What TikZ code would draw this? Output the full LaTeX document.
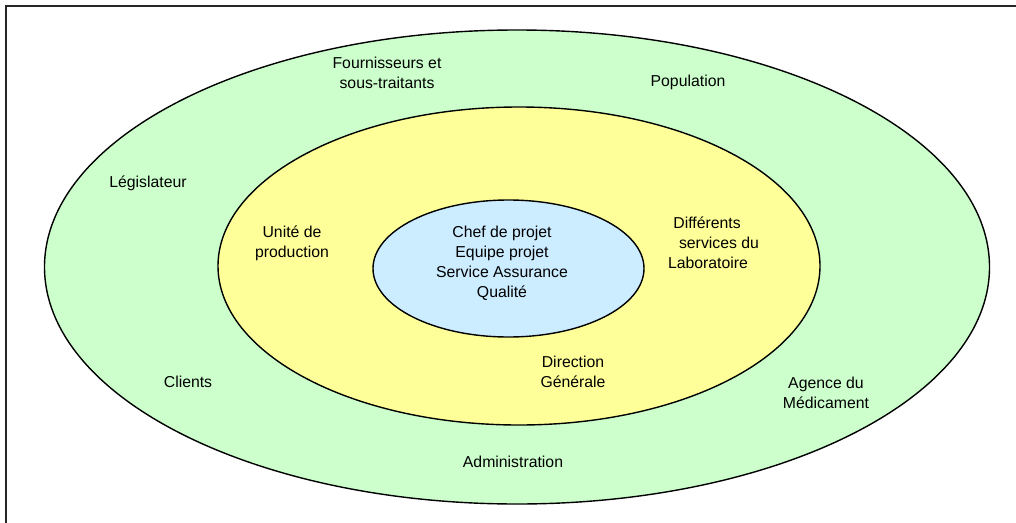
\documentclass[tikz,border=0pt]{standalone}
\usepackage{fontspec}
\setmainfont{Liberation Sans}
\usetikzlibrary{shapes.geometric}
\definecolor{outerfill}{HTML}{CCFFCC}
\definecolor{midfill}{HTML}{FFFF99}
\definecolor{innerfill}{HTML}{CCECFF}
\begin{document}
\begin{tikzpicture}[x=1pt,y=-1pt,
  ring/.style={draw=black, line width=1.4pt, ellipse, inner sep=0pt},
  lbl/.style={align=center, font=\fontsize{15.8}{20}\selectfont, inner sep=0pt}]
\useasboundingbox (0,0) rectangle (1016,522);
\draw[line width=2pt, draw=black!85] (6,6) rectangle (1030,540);
\node[ring, fill=outerfill, minimum width=945pt, minimum height=474pt] (outer) at (517,267) {};
\node[ring, fill=midfill, minimum width=602pt, minimum height=318pt] (mid) at (519,266) {};
\node[ring, fill=innerfill, minimum width=271pt, minimum height=137pt] (inner) at (508.5,268.5) {};
\node[lbl] (core) at (502,263) {Chef de projet\\Equipe projet\\Service Assurance\\Qualité};
\node[lbl] (fourn) at (387,73) {Fournisseurs et\\sous-traitants};
\node[lbl] (pop) at (688,82) {Population};
\node[lbl] (legis) at (148,183) {Législateur};
\node[lbl] (unite) at (292,243) {Unité de\\production};
\node[lbl] (diff1) at (707,223) {Différents};
\node[lbl] (diff2) at (719,243) {services du};
\node[lbl] (diff3) at (708,263) {Laboratoire};
\node[lbl] (dir) at (573,372) {Direction\\Générale};
\node[lbl] (clients) at (188,382) {Clients};
\node[lbl] (agence) at (826,393) {Agence du\\Médicament};
\node[lbl] (admin) at (513,462) {Administration};
\end{tikzpicture}
\end{document}
